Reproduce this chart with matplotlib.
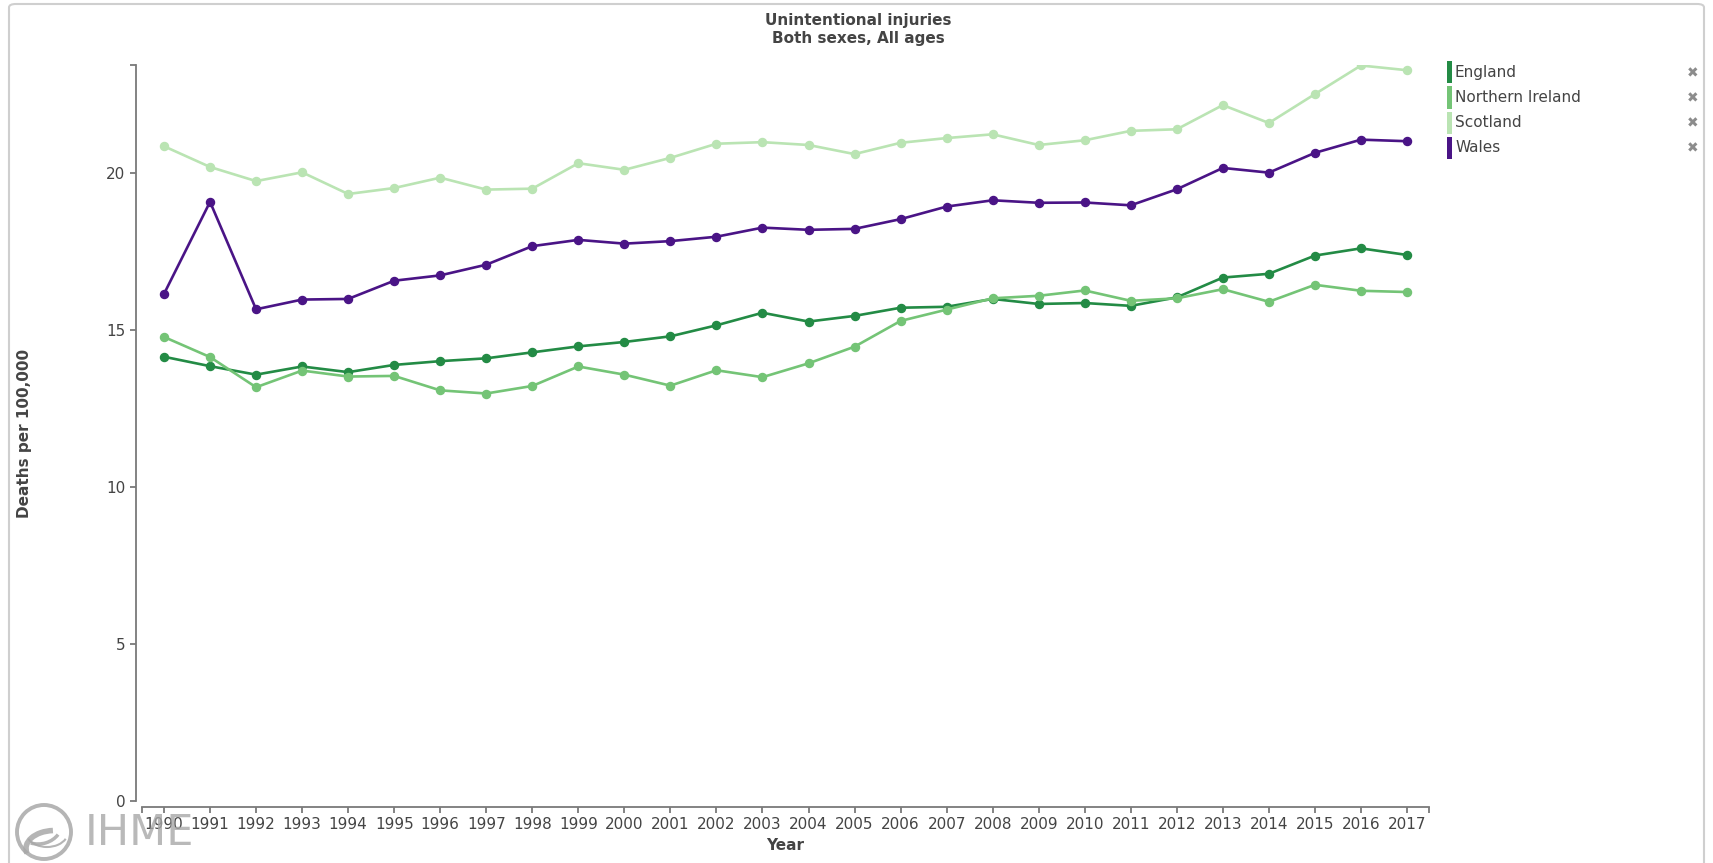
import numpy as np
import matplotlib
matplotlib.use("Agg")
from matplotlib import pyplot as plt
from matplotlib.patches import Rectangle, FancyBboxPatch, Circle, Arc

years = list(range(1990, 2018))
england = [14.14, 13.84, 13.57, 13.83, 13.65, 13.88, 14.00, 14.09, 14.28, 14.47, 14.61, 14.79,
           15.14, 15.54, 15.26, 15.44, 15.70, 15.73, 15.98, 15.82, 15.85,
           15.76, 16.03, 16.66, 16.78, 17.36, 17.59, 17.38]
n_ireland = [14.77, 14.13, 13.17, 13.70, 13.51, 13.53, 13.07, 12.97, 13.21, 13.83, 13.57, 13.22,
             13.71, 13.49, 13.93, 14.46, 15.28, 15.64, 16.00, 16.08, 16.25,
             15.92, 16.00, 16.29, 15.89, 16.43, 16.24, 16.20]
scotland = [20.84, 20.18, 19.73, 20.01, 19.32, 19.51, 19.84, 19.46, 19.49, 20.30, 20.09, 20.47,
            20.92, 20.97, 20.88, 20.59, 20.95, 21.10, 21.22, 20.88, 21.03,
            21.33, 21.38, 22.15, 21.58, 22.50, 23.41, 23.26]
wales = [16.14, 19.07, 15.65, 15.96, 15.98, 16.56, 16.73, 17.07, 17.66, 17.86, 17.74, 17.82,
         17.96, 18.25, 18.18, 18.21, 18.52, 18.92, 19.12, 19.04, 19.05,
         18.96, 19.47, 20.15, 20.00, 20.63, 21.05, 21.00]

names = ["England", "Northern Ireland", "Scotland", "Wales"]
colors = ["#238b45", "#74c476", "#bae4b3", "#4a1486"]
series = [england, n_ireland, scotland, wales]
yticks = [0, 5, 10, 15, 20]

W, H = 1713, 863
TXT = "#444444"
AXC = "#7a7a7a"


def fx(px):
    return px / W


def fy(py):
    return 1 - py / H


fig = plt.figure(figsize=(W / 100, H / 100), dpi=100)

# outer frame
fig.patches.append(FancyBboxPatch((fx(9), fy(900)), fx(1695), (900 - 4) / H,
                                  boxstyle="round,pad=0,rounding_size=0.004",
                                  transform=fig.transFigure, fc="none", ec="#cfcfcf", lw=1.5))

ax = fig.add_axes([fx(142), fy(801), fx(1429 - 142), (801 - 65.5) / H])

for name, vals, c in zip(names, series, colors):
    ax.plot(years, vals, color=c, lw=1.9, marker="o", ms=5.8, mec=c, mfc=c, label=name)

ymax = max(max(s) for s in series)
ax.set_xlim(years[0] - 0.478, years[-1] + 0.478)
ax.set_ylim(0, ymax)

for s in ["top", "right"]:
    ax.spines[s].set_visible(False)
for s in ["left", "bottom"]:
    ax.spines[s].set_position(("outward", 4.3))
    ax.spines[s].set_color(AXC)
    ax.spines[s].set_linewidth(1.3)

ax.set_xticks(years)
ax.set_xticklabels([str(y) for y in years])
ax.set_yticks(yticks)
ax.set_xticks([years[0] - 0.478, years[-1] + 0.478], minor=True)
ax.set_yticks([ymax], minor=True)
ax.tick_params(which="both", length=4.5, width=1.3, color=AXC, labelsize=11,
               labelcolor=TXT, pad=3)

ax.set_xlabel("Year", fontsize=11, fontweight="bold", color=TXT, labelpad=4)
fig.text(fx(25), fy(433), "Deaths per 100,000", rotation=90, fontsize=11,
         fontweight="bold", color=TXT, ha="center", va="center")

fig.text(fx(858), fy(20), "Unintentional injuries", fontsize=11, fontweight="bold",
         color=TXT, ha="center", va="center")
fig.text(fx(858), fy(39), "Both sexes, All ages", fontsize=11, fontweight="bold",
         color=TXT, ha="center", va="center")

# legend with remove marks
for i, (name, c) in enumerate(zip(names, colors)):
    yc = 72.3 + i * 25.2
    fig.patches.append(Rectangle((fx(1447), fy(yc + 11)), fx(5), 22 / H,
                                 transform=fig.transFigure, fc=c, ec="none"))
    fig.text(fx(1455), fy(yc), name, fontsize=11, color=TXT, ha="left", va="center")
    fig.text(fx(1693), fy(yc + 1), "\u2716", fontsize=10, color="#8c8c8c",
             ha="center", va="center")

# IHME logo
lax = fig.add_axes([fx(14), fy(862), fx(60), 60 / H], zorder=5)
lax.set_xlim(-1, 1)
lax.set_ylim(-1, 1)
lax.set_aspect("equal")
lax.axis("off")
lax.add_patch(Circle((0, 0), 0.9, fc="none", ec="#a8a8a8", lw=2.8, alpha=0.85))
lax.add_patch(Arc((0.35, -0.55), 1.9, 1.2, theta1=95, theta2=190, ec="#a8a8a8", lw=4, alpha=0.85))
lax.add_patch(Arc((-0.2, 0.3), 1.6, 1.4, theta1=250, theta2=330, ec="#a8a8a8", lw=2.5, alpha=0.85))
lax.add_patch(Arc((0.1, 0.0), 1.4, 1.0, theta1=200, theta2=340, ec="#a8a8a8", lw=1.5, alpha=0.85))
fig.text(fx(85), fy(833), "IHME", fontsize=31, color="#a8a8a8", alpha=0.8,
         family=["Liberation Sans Narrow", "DejaVu Sans"], ha="left", va="center",
         zorder=6)

fig.savefig("out.png", dpi=100)
